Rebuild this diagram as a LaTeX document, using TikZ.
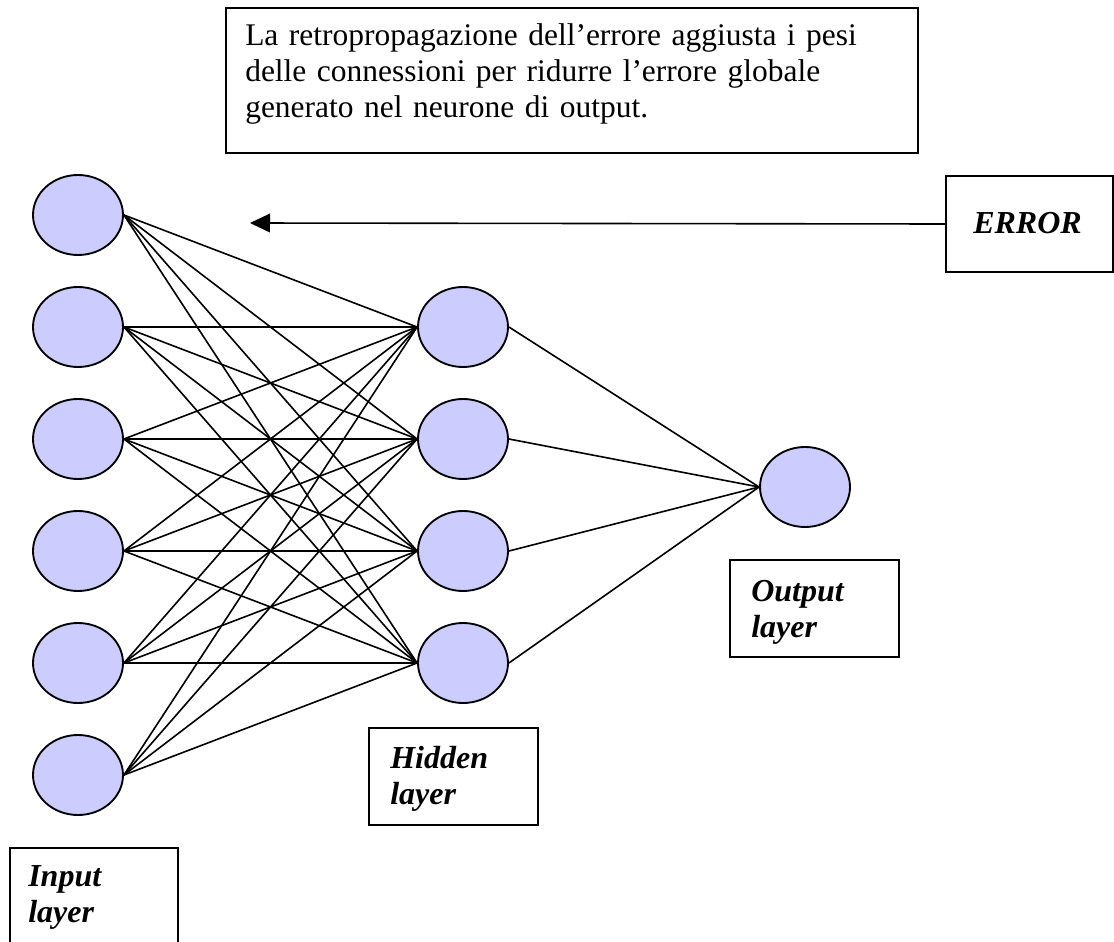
\documentclass[tikz,border=0pt]{standalone}
\usepackage{fontspec}
\setmainfont{Liberation Serif}
\usetikzlibrary{shapes.geometric,arrows.meta}
\definecolor{neuronfill}{RGB}{204,204,255}
\tikzset{
    neuron/.style={ellipse, draw, line width=1.4pt, fill=neuronfill,
        minimum width=67.5pt, minimum height=60pt, inner sep=0pt},
    frame/.style={rectangle, draw, line width=1.5pt, anchor=north west, inner sep=0pt},
    txt/.style={anchor=base west, inner sep=0pt, align=left,
        font=\fontsize{23.6}{27}\selectfont},
    lbl/.style={txt, font=\fontsize{24}{27}\selectfont\bfseries\itshape},
    wire/.style={line width=1.2pt}
}
\begin{document}
\begin{tikzpicture}[x=0.75pt, y=-0.75pt, >={Triangle[length=15pt,width=14pt]}]
    \useasboundingbox (0,0) rectangle (1114,942);
    % Neuroni
    \foreach \i in {1,...,6} {
        \node[neuron] (in\i) at (78,{215+112*(\i-1)}) {};
    }
    \foreach \j in {1,...,4} {
        \node[neuron] (h\j) at (463,{327+112*(\j-1)}) {};
    }
    \node[neuron] (out) at (805,487) {};
    
    % Connessioni
    \foreach \i in {1,...,6} {
        \foreach \j in {1,...,4} {
            \draw[wire] (in\i.east) -- (h\j.west);
        }
    }
    \foreach \j in {1,...,4} {
        \draw[wire] (h\j.east) -- (out.west);
    }
    
    % Riquadri
    \node[frame, minimum width=519pt, minimum height=108.75pt] (notebox) at (225,7) {};
    \node[txt, text width=487.5pt] (notetxt) at (245,46)
        {La retropropagazione dell’errore aggiusta i pesi\\
         delle connessioni per ridurre l’errore globale\\
         generato nel neurone di output.};
    \node[frame, minimum width=125.25pt, minimum height=72pt] (errbox) at (945,175) {};
    \node[lbl] (errtxt) at (973,233) {ERROR};
    \coordinate (tip) at (250,223);
    \draw[wire, ->] (errbox.west) -- (tip);
    
    \node[frame, minimum width=126pt, minimum height=86pt] (inbox) at (9,847) {};
    \node[lbl, text width=100pt] (intxt) at (28,886) {Input\\layer};
    \node[frame, minimum width=126.75pt, minimum height=72.75pt] (hidbox) at (368,727) {};
    \node[lbl, text width=100pt] (hidtxt) at (390,768) {Hidden\\layer};
    \node[frame, minimum width=126.75pt, minimum height=72.75pt] (outbox) at (729,559) {};
    \node[lbl, text width=100pt] (outtxt) at (751,601) {Output\\layer};
\end{tikzpicture}
\end{document}
